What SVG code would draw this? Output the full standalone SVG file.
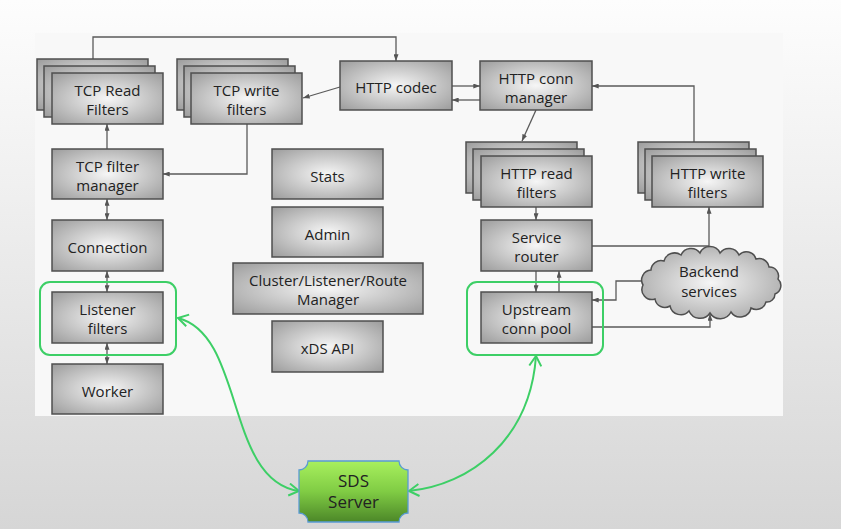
<svg xmlns="http://www.w3.org/2000/svg" width="841" height="529" viewBox="0 0 841 529">
<defs>
  <linearGradient id="bg" x1="0" y1="0" x2="0" y2="1">
    <stop offset="0" stop-color="#fdfdfd"/>
    <stop offset="0.35" stop-color="#f0f0f0"/>
    <stop offset="1" stop-color="#d6d6d6"/>
  </linearGradient>
  <radialGradient id="box" cx="0.5" cy="0.5" r="0.72">
    <stop offset="0" stop-color="#f6f6f6"/>
    <stop offset="1" stop-color="#999"/>
  </radialGradient>
  <linearGradient id="sds" x1="0" y1="0" x2="0" y2="1">
    <stop offset="0" stop-color="#a8f05e"/>
    <stop offset="0.5" stop-color="#80cc44"/>
    <stop offset="1" stop-color="#4c8728"/>
  </linearGradient>
  <marker id="ar" viewBox="0 0 8 6" refX="8" refY="3" markerWidth="7" markerHeight="5" markerUnits="userSpaceOnUse" orient="auto-start-reverse">
    <path d="M0,0 L8,3 L0,6 Z" fill="#555"/>
  </marker>
  <marker id="ga" viewBox="0 0 12 14" refX="11" refY="7" markerWidth="12" markerHeight="14" markerUnits="userSpaceOnUse" orient="auto-start-reverse">
    <path d="M1,1 L11,7 L1,13" fill="none" stroke="#3dcf66" stroke-width="2"/>
  </marker>
  <style>
    .b{fill:url(#box);stroke:#4f4f4f;stroke-width:1.5}
    .t{font-family:"Open Sans","Liberation Sans",sans-serif;font-size:15px;fill:#222;text-anchor:middle}
    .c{fill:none;stroke:#5a5a5a;stroke-width:1.3}
    .g{fill:none;stroke:#3dcf66;stroke-width:2}
  </style>
</defs>
<rect x="0" y="0" width="841" height="529" fill="url(#bg)"/>
<rect x="35" y="33" width="748" height="383" fill="#f8f8f8"/>

<g id="connectors">
  <path class="c" d="M93,59 V37 H396 V61" marker-end="url(#ar)"/>
  <path class="c" d="M340,87 L303,98" marker-end="url(#ar)"/>
  <path class="c" d="M452,86 H480" marker-end="url(#ar)"/>
  <path class="c" d="M480,100 H452" marker-end="url(#ar)"/>
  <path class="c" d="M536,110 L522,141" marker-end="url(#ar)"/>
  <path class="c" d="M694,142 V86 H592" marker-end="url(#ar)"/>
  <path class="c" d="M247,124 V174 H163" marker-end="url(#ar)"/>
  <path class="c" d="M107,149 V124" marker-end="url(#ar)"/>
  <path class="c" d="M107,199 V220" marker-start="url(#ar)" marker-end="url(#ar)"/>
  <path class="c" d="M107,271 V292" marker-start="url(#ar)" marker-end="url(#ar)"/>
  <path class="c" d="M107,343 V364" marker-start="url(#ar)" marker-end="url(#ar)"/>
  <path class="c" d="M536,207 V220" marker-end="url(#ar)"/>
  <path class="c" d="M592,246 H709 V207" marker-end="url(#ar)"/>
  <path class="c" d="M536,271 V292" marker-end="url(#ar)"/>
  <path class="c" d="M559,292 V271" marker-end="url(#ar)"/>
  <path class="c" d="M642,281 H616 V300 H592" marker-end="url(#ar)"/>
  <path class="c" d="M592,327 H710 V314" marker-end="url(#ar)"/>
  <path class="g" d="M178,318 C245,335 225,480 299,491" marker-start="url(#ga)" marker-end="url(#ga)"/>
  <path class="g" d="M536,356 C530,440 470,485 409,491" marker-start="url(#ga)" marker-end="url(#ga)"/>
</g>

<g id="tcp-read-filters">
  <rect class="b" x="37" y="59" width="111" height="51"/>
  <rect class="b" x="44" y="66" width="111" height="51"/>
  <rect class="b" x="52" y="73" width="111" height="51"/>
  <text class="t" x="107.5" y="96">TCP Read</text>
  <text class="t" x="107.5" y="115">Filters</text>
</g>
<g id="tcp-write-filters">
  <rect class="b" x="177" y="59" width="111" height="51"/>
  <rect class="b" x="184" y="66" width="111" height="51"/>
  <rect class="b" x="191" y="73" width="111" height="51"/>
  <text class="t" x="246.5" y="96">TCP write</text>
  <text class="t" x="246.5" y="115">filters</text>
</g>
<g id="http-codec">
  <rect class="b" x="340" y="61" width="112" height="49"/>
  <text class="t" x="396" y="92.5">HTTP codec</text>
</g>
<g id="http-conn-manager">
  <rect class="b" x="480" y="61" width="112" height="49"/>
  <text class="t" x="536" y="84">HTTP conn</text>
  <text class="t" x="536" y="103">manager</text>
</g>
<g id="http-read-filters">
  <rect class="b" x="466" y="142" width="111" height="51"/>
  <rect class="b" x="473" y="149" width="111" height="51"/>
  <rect class="b" x="481" y="156" width="111" height="51"/>
  <text class="t" x="536.5" y="179">HTTP read</text>
  <text class="t" x="536.5" y="198">filters</text>
</g>
<g id="http-write-filters">
  <rect class="b" x="638" y="142" width="111" height="51"/>
  <rect class="b" x="645" y="149" width="111" height="51"/>
  <rect class="b" x="652" y="156" width="111" height="51"/>
  <text class="t" x="707.5" y="179">HTTP write</text>
  <text class="t" x="707.5" y="198">filters</text>
</g>
<g id="tcp-filter-manager">
  <rect class="b" x="52" y="149" width="111" height="50"/>
  <text class="t" x="107.5" y="171.5">TCP filter</text>
  <text class="t" x="107.5" y="190.5">manager</text>
</g>
<g id="stats">
  <rect class="b" x="272" y="149" width="111" height="50"/>
  <text class="t" x="327.5" y="181.5">Stats</text>
</g>
<g id="connection">
  <rect class="b" x="52" y="220" width="111" height="51"/>
  <text class="t" x="107.5" y="253">Connection</text>
</g>
<g id="admin">
  <rect class="b" x="272" y="207" width="111" height="50"/>
  <text class="t" x="327.5" y="239.5">Admin</text>
</g>
<g id="cluster-manager">
  <rect class="b" x="233" y="263" width="190" height="51"/>
  <text class="t" x="328" y="286">Cluster/Listener/Route</text>
  <text class="t" x="328" y="305">Manager</text>
</g>
<g id="xds-api">
  <rect class="b" x="272" y="321" width="111" height="51"/>
  <text class="t" x="327.5" y="354">xDS API</text>
</g>
<g id="listener-filters">
  <rect x="40" y="282" width="136" height="73" rx="10" fill="none" stroke="#3dcf66" stroke-width="2"/>
  <rect class="b" x="52" y="292" width="111" height="51"/>
  <text class="t" x="107.5" y="315">Listener</text>
  <text class="t" x="107.5" y="334">filters</text>
</g>
<g id="worker">
  <rect class="b" x="52" y="364" width="111" height="50"/>
  <text class="t" x="107.5" y="396.5">Worker</text>
</g>
<g id="service-router">
  <rect class="b" x="481" y="220" width="111" height="51"/>
  <text class="t" x="536.5" y="243">Service</text>
  <text class="t" x="536.5" y="262">router</text>
</g>
<g id="upstream-conn-pool">
  <rect x="467" y="282" width="136" height="73" rx="10" fill="none" stroke="#3dcf66" stroke-width="2"/>
  <rect class="b" x="481" y="292" width="111" height="51"/>
  <text class="t" x="536.5" y="315">Upstream</text>
  <text class="t" x="536.5" y="334">conn pool</text>
</g>
<g id="backend-services">
  <path class="b" d="M643,285 A10 10 0 0 1 651,270 A10 10 0 0 1 664,261 A11 11 0 0 1 681,255 A11 11 0 0 1 700,253 A11 11 0 0 1 720,253 A11 11 0 0 1 739,255 A10 10 0 0 1 756,259 A10 10 0 0 1 769,267 A9 9 0 0 1 778,279 A9 9 0 0 1 775,294 A8 8 0 0 1 766,302 A10 10 0 0 1 751,308 A11 11 0 0 1 731,312 A12 12 0 0 1 710,313 A12 12 0 0 1 689,311 A11 11 0 0 1 670,306 A10 10 0 0 1 655,299 A10 10 0 0 1 643,285 Z"/>
  <text class="t" x="709" y="277">Backend</text>
  <text class="t" x="709" y="297">services</text>
</g>
<g id="sds-server">
  <path d="M308,461 H399 A9 9 0 0 0 408,470 V513 A9 9 0 0 0 399,522 H308 A9 9 0 0 0 299,513 V470 A9 9 0 0 0 308,461 Z" fill="url(#sds)" stroke="#5a9bd5" stroke-width="1.3"/>
  <text class="t" x="353.5" y="487" style="font-size:17px">SDS</text>
  <text class="t" x="353.5" y="508" style="font-size:17px">Server</text>
</g>
</svg>
